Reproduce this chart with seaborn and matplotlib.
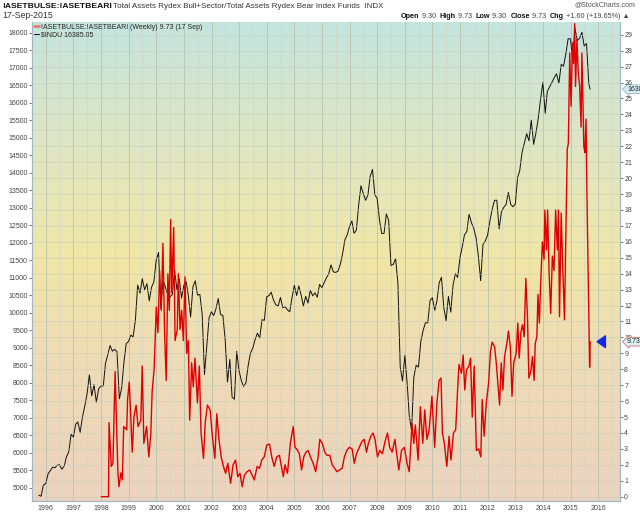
import matplotlib
matplotlib.use("Agg")
import matplotlib.pyplot as plt
import matplotlib.transforms as mtransforms
from matplotlib.colors import LinearSegmentedColormap
import numpy as np
import pandas as pd
import seaborn as sns

# $INDU monthly closes (Sep 1995 .. Aug 2015) + last weekly close 17 Sep 2015
djia_close = [
    4789, 4756, 5075, 5117,
    5395, 5486, 5587, 5569, 5643, 5655, 5529, 5616, 5882, 6029, 6522, 6448,
    6813, 6878, 6584, 7009, 7331, 7673, 8223, 7622, 7945, 7442, 7823, 7908,
    7907, 8546, 8800, 9063, 8900, 8952, 8883, 7539, 7843, 8592, 9117, 9181,
    9359, 9307, 9786, 10789, 10560, 10971, 10655, 10829, 10337, 10730, 10878, 11497,
    11723, 10128, 10922, 10734, 10522, 10448, 10522, 11215, 10651, 10971, 10415, 10788,
    10887, 10495, 9879, 10735, 10912, 10502, 10523, 9950, 8236, 9075, 9852, 10022,
    9920, 10106, 10404, 9946, 9925, 9243, 8019, 8664, 7592, 7528, 8896, 8342,
    8054, 7891, 7992, 8480, 8850, 8985, 9234, 9416, 9275, 9801, 9782, 10454,
    10488, 10584, 10358, 10226, 10188, 10435, 10140, 10174, 10080, 10027, 10428, 10783,
    10490, 10766, 10504, 10193, 10467, 10275, 10641, 10482, 10569, 10440, 10806, 10718,
    10865, 10993, 11109, 11367, 11168, 11150, 11186, 11381, 11679, 12081, 12222, 12463,
    12622, 12269, 12354, 13063, 13628, 13409, 13212, 13358, 13896, 14093, 13372, 13265,
    12650, 12266, 12263, 12820, 12638, 11350, 11378, 11544, 10851, 8451, 8046, 8776,
    8001, 7063, 6627, 8168, 8500, 8447, 9172, 9496, 9712, 9713, 10345, 10428,
    10067, 10325, 10857, 11009, 10137, 9774, 10466, 10015, 10788, 11118, 11006, 11578,
    11892, 12226, 12320, 12811, 12570, 12414, 12143, 11614, 10913, 11955, 12046, 12218,
    12633, 12952, 13212, 13214, 12393, 12880, 13009, 13091, 13437, 13096, 13026, 13104,
    13861, 14054, 14579, 14840, 15116, 14910, 15500, 14810, 15130, 15546, 16086, 16577,
    15699, 16322, 16458, 16581, 16717, 16827, 16563, 17098, 17043, 17391, 17828, 17823,
    17165, 18133, 17776, 17841, 18011, 17620, 17690, 16528,
    16385.05,
]
djia_dates = list(pd.date_range("1995-09-30", "2015-08-31", freq="ME")) + [pd.Timestamp("2015-09-17")]

# !ASETBULSE:!ASETBEARI ratio (decimal year, value)
ratio_years = [
    1998.01, 1998.27, 1998.29, 1998.37, 1998.43, 1998.51, 1998.61, 1998.65, 1998.72, 1998.77,
    1998.82, 1998.93, 1998.96, 1999.02, 1999.08, 1999.13, 1999.19, 1999.27, 1999.34, 1999.44,
    1999.49, 1999.55, 1999.65, 1999.73, 1999.80, 1999.85, 1999.92, 2000.00, 2000.06, 2000.12,
    2000.18, 2000.24, 2000.30, 2000.36, 2000.42, 2000.47, 2000.52, 2000.56, 2000.63, 2000.68,
    2000.76, 2000.80, 2000.86, 2000.92, 2000.98, 2001.04, 2001.10, 2001.16, 2001.21, 2001.28,
    2001.34, 2001.40, 2001.49, 2001.56, 2001.62, 2001.71, 2001.77, 2001.85, 2001.95, 2002.03,
    2002.12, 2002.19, 2002.27, 2002.35, 2002.43, 2002.51, 2002.59, 2002.69, 2002.78, 2002.87,
    2002.95, 2003.03, 2003.11, 2003.19, 2003.29, 2003.38, 2003.47, 2003.55, 2003.65, 2003.74,
    2003.82, 2003.91, 2004.00, 2004.10, 2004.18, 2004.27, 2004.36, 2004.46, 2004.53, 2004.60,
    2004.66, 2004.75, 2004.82, 2004.86, 2004.96, 2005.02, 2005.08, 2005.18, 2005.26, 2005.34,
    2005.42, 2005.50, 2005.58, 2005.68, 2005.77, 2005.86, 2005.92, 2006.01, 2006.10, 2006.18,
    2006.28, 2006.37, 2006.46, 2006.54, 2006.63, 2006.73, 2006.81, 2006.90, 2006.99, 2007.09,
    2007.17, 2007.25, 2007.35, 2007.44, 2007.53, 2007.61, 2007.68, 2007.77, 2007.85, 2007.92,
    2008.01, 2008.09, 2008.19, 2008.28, 2008.37, 2008.45, 2008.54, 2008.64, 2008.72, 2008.78,
    2008.88, 2008.98, 2009.08, 2009.16, 2009.26, 2009.32, 2009.38, 2009.48, 2009.56, 2009.65,
    2009.72, 2009.80, 2009.88, 2009.98, 2010.08, 2010.16, 2010.24, 2010.31, 2010.36, 2010.43,
    2010.52, 2010.60, 2010.67, 2010.76, 2010.84, 2010.91, 2010.96, 2011.05, 2011.11, 2011.17,
    2011.23, 2011.32, 2011.38, 2011.44, 2011.51, 2011.59, 2011.67, 2011.75, 2011.80, 2011.87,
    2011.95, 2012.03, 2012.10, 2012.16, 2012.25, 2012.31, 2012.37, 2012.43, 2012.49, 2012.55,
    2012.61, 2012.70, 2012.75, 2012.82, 2012.88, 2012.94, 2013.03, 2013.09, 2013.14, 2013.20,
    2013.26, 2013.32, 2013.38, 2013.44, 2013.49, 2013.56, 2013.62, 2013.68, 2013.72, 2013.78,
    2013.82, 2013.87, 2013.92, 2013.98, 2014.04, 2014.07, 2014.13, 2014.17, 2014.22, 2014.28,
    2014.34, 2014.40, 2014.46, 2014.52, 2014.56, 2014.60, 2014.66, 2014.72, 2014.78, 2014.84,
    2014.88, 2014.92, 2014.97, 2015.02, 2015.07, 2015.11, 2015.15, 2015.18, 2015.23, 2015.28,
    2015.33, 2015.38, 2015.41, 2015.45, 2015.48, 2015.52, 2015.56, 2015.59, 2015.69, 2015.71,
]
ratio_values = [
    0.0, 0.0, 4.65, 1.9, 2.1, 7.85, 1.5, 0.63, 1.5, 1.05,
    4.4, 4.2, 6.1, 7.2, 4.8, 2.8, 5.0, 5.75, 4.4, 4.8,
    8.2, 3.35, 4.4, 2.5, 3.9, 6.6, 7.96, 11.9, 10.3, 14.2,
    11.7, 15.9, 10.3, 7.3, 14.0, 11.7, 17.4, 12.8, 16.9, 9.8,
    10.5, 14.0, 10.5, 11.7, 9.8, 13.8, 9.0, 9.8, 4.8, 8.4,
    6.9, 8.7, 5.9, 8.2, 4.0, 2.4, 4.6, 5.75, 5.45, 3.8,
    2.4, 5.2, 3.6, 2.5, 1.9, 1.47, 2.1, 0.84, 2.0, 2.3,
    1.26, 1.47, 0.63, 1.36, 1.57, 1.68, 1.36, 1.05, 1.9, 1.78,
    2.3, 2.5, 3.25, 3.3, 2.5, 1.9, 2.5, 2.6, 1.9, 1.26,
    2.0, 1.47, 2.7, 3.45, 4.4, 3.1, 3.0, 2.7, 1.68, 2.5,
    2.8, 2.9, 2.5, 2.1, 1.57, 2.5, 3.6, 3.35, 2.8, 2.6,
    2.6, 2.0, 1.78, 1.57, 1.68, 1.78, 2.5, 2.9, 3.1, 3.0,
    2.1, 2.7, 3.1, 3.45, 3.6, 2.8, 3.35, 3.8, 4.0, 3.6,
    2.5, 2.9, 2.7, 3.45, 4.0, 3.1, 2.8, 3.6, 2.5, 1.68,
    2.9, 3.1, 2.1, 1.57, 4.6, 3.35, 4.5, 2.3, 5.65, 3.35,
    5.45, 3.6, 4.2, 6.3, 3.1, 5.9, 7.3, 7.45, 4.0, 3.35,
    1.9, 3.8, 2.3, 4.0, 4.2, 6.7, 8.3, 7.75, 8.9, 6.7,
    7.96, 8.2, 8.7, 5.0, 8.2, 2.9, 3.0, 2.5, 6.1, 3.8,
    5.9, 7.1, 9.1, 9.7, 9.4, 8.4, 7.1, 5.75, 8.4, 6.7,
    8.8, 9.7, 10.4, 9.4, 6.3, 8.4, 9.0, 10.9, 8.7, 10.3,
    10.8, 10.05, 13.7, 11.3, 7.45, 7.85, 8.8, 7.3, 9.6, 10.05,
    12.7, 10.9, 13.5, 16.0, 14.9, 18.0, 15.5, 18.0, 14.2, 11.5,
    15.1, 14.2, 18.0, 15.5, 18.0, 11.3, 17.8, 14.2, 11.1, 17.6,
    21.8, 22.2, 27.85, 24.5, 28.5, 27.2, 29.7, 25.75, 28.7, 26.6,
    25.75, 23.2, 27.85, 24.7, 22.0, 21.6, 23.7, 19.3, 8.13, 9.73,
]

year_ticks = list(range(1996, 2017))
left_ticks = list(range(5000, 18001, 500))
right_ticks = list(range(0, 30))

djia_years = [d.year + (d.dayofyear - 1) / 365.25 for d in djia_dates]

sns.set_theme(style="white")
plt.rcParams["font.family"] = ["Liberation Sans", "DejaVu Sans"]

fig = plt.figure(figsize=(6.4, 5.12), dpi=100)
ax = fig.add_axes([32 / 640, 11 / 512, 588 / 640, 479 / 512])
ax2 = ax.twinx()

# background gradient
cmap = LinearSegmentedColormap.from_list(
    "bg", [(0.0, "#ecd3be"), (0.3, "#eedcb6"), (0.5, "#f1e6a6"),
           (0.75, "#dfe6c4"), (1.0, "#c4e4df")])
ax.imshow(np.linspace(0, 1, 256).reshape(-1, 1), cmap=cmap, origin="lower",
          extent=(0, 1, 0, 1), transform=ax.transAxes, aspect="auto", zorder=-5)

sns.lineplot(x=djia_years, y=djia_close, ax=ax, color="#111111", linewidth=0.7)
sns.lineplot(x=ratio_years, y=ratio_values, ax=ax2, color="#e00000", linewidth=1.0)

ax.set_xlim(1995.71, 2016.79)
ax.set_ylim(4620, 18305)
ax2.set_ylim(-0.27, 29.8)

ax.set_xticks(year_ticks)
ax.set_xticklabels([str(y) for y in year_ticks])
ax.set_xticks([y + 0.5 for y in range(1995, 2017)], minor=True)
ax.set_yticks(left_ticks)
ax.set_yticklabels([str(v) for v in left_ticks])
ax2.set_yticks(right_ticks)
ax2.set_yticklabels([str(v) for v in right_ticks])

ax.grid(axis="x", which="major", color="#b9c2ae", linewidth=0.6)
ax.grid(axis="x", which="minor", color="#d2d6c6", linewidth=0.5)
ax2.grid(axis="y", color="#c6ccbc", linewidth=0.5, alpha=0.75)
ax.set_axisbelow(True)

for a in (ax, ax2):
    a.tick_params(axis="both", which="major", labelsize=5, colors="#444444",
                  length=2, width=0.5, pad=1)
    a.tick_params(axis="x", which="minor", length=0)
    for side in ("left", "bottom", "right"):
        a.spines[side].set_color("#a3b7c4")
        a.spines[side].set_linewidth(0.8)
    a.spines["top"].set_visible(False)
    a.set_xlabel("")
    a.set_ylabel("")

# legend
red_line = ax2.get_lines()[0]
black_line = ax.get_lines()[0]
leg = ax2.legend([red_line, black_line],
                 ["!ASETBULSE:!ASETBEARI (Weekly) 9.73 (17 Sep)", "$INDU 16385.05"],
                 loc="upper left", frameon=False, fontsize=5, handlelength=0.7,
                 handletextpad=0.4, borderaxespad=0.15, labelspacing=0.05,
                 borderpad=0.1)
leg.get_lines()[0].set_color("#ee7777")
leg.get_lines()[0].set_linewidth(2)

# last-value tags
tr1 = mtransforms.blended_transform_factory(ax.transAxes, ax.transData)
ax.text(1.012, djia_close[-1], f"{djia_close[-1]:.0f}", transform=tr1, fontsize=5,
        va="center", ha="left", clip_on=False, zorder=10,
        bbox=dict(boxstyle="larrow,pad=0.12", fc="#d3ecf2", ec="#8aaabb", lw=0.5))
tr2 = mtransforms.blended_transform_factory(ax2.transAxes, ax2.transData)
ax2.text(1.012, ratio_values[-1], f"{ratio_values[-1]:.2f}", transform=tr2, fontsize=5,
         va="center", ha="left", clip_on=False, zorder=10,
         bbox=dict(boxstyle="larrow,pad=0.12", fc="#d8f2f6", ec="#e06868", lw=0.6))

# blue pointer arrow
ax2.annotate("", xy=(2015.86, ratio_values[-1]), xytext=(2016.22, ratio_values[-1]),
             arrowprops=dict(arrowstyle="simple,head_length=0.5,head_width=0.7,tail_width=0.35",
                             fc="#1428e6", ec="#1428e6"))

# header
def fx(px):
    return px / 640


def fy(py):
    return 1 - py / 512


fig.text(fx(2), fy(7), "!ASETBULSE:!ASETBEARI", fontsize=6.1, weight="bold",
         va="center", color="#111111")
fig.text(fx(113), fy(7), "Total Assets Rydex Bull+Sector/Total Assets Rydex Bear Index Funds  INDX",
         fontsize=5.8, va="center", color="#333333")
fig.text(fx(2), fy(16), "17-Sep-2015", fontsize=6.3, va="center", color="#333333")
fig.text(fx(635), fy(5), "@StockCharts.com", fontsize=5, va="center", ha="right",
         color="#555555")

pieces = [("Open", "bold"), (" 9.30  ", "normal"), ("High", "bold"), (" 9.73  ", "normal"),
          ("Low", "bold"), (" 9.30  ", "normal"), ("Close", "bold"), (" 9.73  ", "normal"),
          ("Chg", "bold"), (" +1.60 (+19.65%) \u25b2", "normal")]
renderer = fig.canvas.get_renderer()
x_cursor = fx(401)
for txt, wt in pieces:
    t = fig.text(x_cursor, fy(16), txt, fontsize=5.2, weight=wt, va="center",
                 color="#111111" if wt == "bold" else "#444444")
    x_cursor += t.get_window_extent(renderer=renderer).width / fig.bbox.width

fig.savefig("out.png", dpi=100)
